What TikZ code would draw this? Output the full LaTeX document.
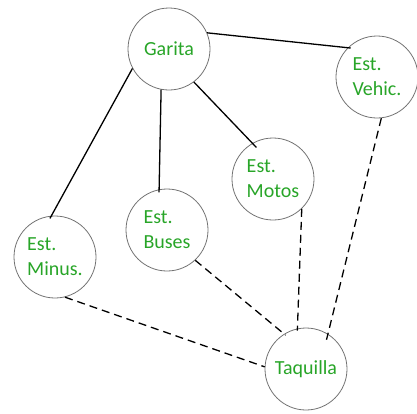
\documentclass[tikz,border=0pt]{standalone}
\usepackage{fontspec}
\setmainfont{Carlito}
\definecolor{txtgreen}{RGB}{40,165,40}
\definecolor{ringgray}{RGB}{115,115,115}
\begin{document}
\begin{tikzpicture}[x=1pt,y=-1pt,
  station/.style={circle,draw=ringgray,line width=0.8pt,minimum size=82pt,inner sep=0pt,
    text=txtgreen,font=\fontsize{20}{25}\selectfont,align=left},
  solidlink/.style={line width=1.3pt,black},
  dashlink/.style={line width=1.3pt,black,dash pattern=on 8pt off 5pt}]
\useasboundingbox (0,0) rectangle (417,413);
\node[station] (g)  at (169,49)  {Garita};
\node[station] (v)  at (377,77)  {Est.\\Vehic.};
\node[station] (mo) at (273,179) {Est.\\Motos};
\node[station] (b)  at (167,230) {Est.\\Buses};
\node[station] (mi) at (55,257)  {Est.\\Minus.};
\node[station] (t)  at (306,369) {Taquilla};
\draw[solidlink,shorten >=-3pt] (g.23) -- (v.135);
\draw[solidlink,shorten >=-3pt] (g.208) -- (mi.95);
\draw[solidlink,shorten >=-3pt] (g.259) -- (b.101);
\draw[solidlink,shorten >=-6pt] (g.307) -- (mo.120);
\draw[dashlink,shorten >=-6pt] (v.276) -- (t.58);
\draw[dashlink,shorten >=-2pt] (mo.314) -- (t.102);
\draw[dashlink,shorten >=-2pt] (b.313) -- (t.122);
\draw[dashlink] (mi.284) -- (t.177);
\end{tikzpicture}
\end{document}
